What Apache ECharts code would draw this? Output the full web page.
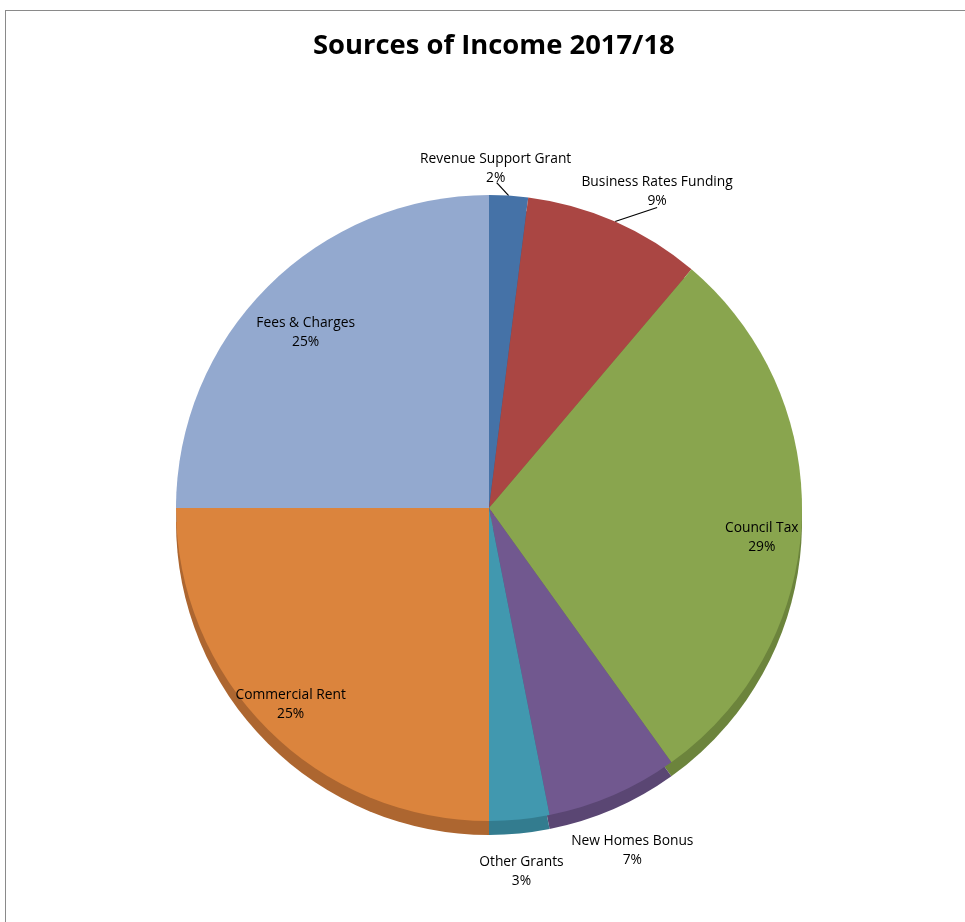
<!DOCTYPE html>
<html>
<head>
<meta charset="utf-8">
<script src="https://cdn.jsdelivr.net/npm/echarts@6/dist/echarts.min.js"></script>
<style>
  html, body { margin: 0; padding: 0; background: #fff; overflow: hidden; }
  #frame { position: absolute; left: 5px; top: 10px; width: 1200px; height: 1200px; border: 1px solid #8a8a8a; box-sizing: border-box; }
  #chart { position: absolute; left: 0; top: 0; width: 965px; height: 922px; }
</style>
</head>
<body>
<div id="frame"></div>
<div id="chart"></div>
<script>
// ---- data ----
const titleText = 'Sources of Income 2017/18';
const categories = ['Revenue Support Grant', 'Business Rates Funding', 'Council Tax', 'New Homes Bonus', 'Other Grants', 'Commercial Rent', 'Fees & Charges'];
const shares = [2.0, 9.2, 28.9, 6.8, 3.1, 25.0, 25.0];

// ---- styles ----
const topColors = ['#4572A7', '#AA4643', '#89A54E', '#71588F', '#4198AF', '#DB843D', '#93A9CF'];
const sideColors = ['#355987', '#883634', '#6c843c', '#5a4673', '#337c8f', '#ad6630', '#7588a8'];
const showLeader = [true, true, false, false, false, false, false];
// label nudges (px) relative to the slice's outer mid-point
const labelNudge = [[-13, -27], [42, -30], [-40, 17], [19, 55], [2, 52], [23, -25], [38, 46]];
const leaderEnd = [[1, 14], [0, 16]];

const CX = 489, CY = 508, R = 313, DEPTH = 14;
const FONT = '"Open Sans", "DejaVu Sans", sans-serif';

const total = shares.reduce((a, b) => a + b, 0);
function midAngle(i) {
  let start = 0;
  for (let k = 0; k < i; k++) start += shares[k];
  return (start + shares[i] / 2) / total * 2 * Math.PI;
}

const chart = echarts.init(document.getElementById('chart'), null, { renderer: 'canvas' });

const option = {
  animation: false,
  backgroundColor: 'transparent',
  title: {
    text: titleText,
    left: 313,
    top: 33,
    padding: 0,
    textStyle: { fontFamily: FONT, fontWeight: 'bold', fontSize: 27.4, color: '#000' }
  },
  series: [
    {
      type: 'pie',
      silent: true,
      center: [CX, CY + DEPTH],
      radius: R,
      startAngle: 90,
      clockwise: true,
      label: { show: false },
      labelLine: { show: false },
      emphasis: { disabled: true },
      data: categories.map((c, i) => ({ name: c, value: shares[i], itemStyle: { color: sideColors[i] } }))
    },
    {
      type: 'pie',
      silent: true,
      center: [CX, CY],
      radius: R,
      startAngle: 90,
      clockwise: true,
      avoidLabelOverlap: false,
      emphasis: { disabled: true },
      label: {
        show: true,
        position: 'outside',
        fontFamily: FONT,
        fontSize: 13.8,
        lineHeight: 19,
        color: '#000',
        formatter: p => p.name + '\n' + Math.round(p.percent) + '%'
      },
      labelLine: { show: true, length: 10, length2: 10, lineStyle: { color: '#000', width: 1.2 } },
      labelLayout: function (params) {
        const i = params.dataIndex;
        const a = midAngle(i);
        const ex = CX + R * Math.sin(a), ey = CY - R * Math.cos(a);
        const lx = ex + labelNudge[i][0], ly = ey + labelNudge[i][1];
        const res = { x: lx, y: ly, align: 'center', verticalAlign: 'middle' };
        if (showLeader[i]) {
          res.labelLinePoints = [[ex, ey], [lx + leaderEnd[i][0], ly + leaderEnd[i][1]], [lx + leaderEnd[i][0], ly + leaderEnd[i][1]]];
        }
        return res;
      },
      data: categories.map((c, i) => ({
        name: c,
        value: shares[i],
        itemStyle: { color: topColors[i] },
        labelLine: { show: showLeader[i] }
      }))
    }
  ]
};
chart.setOption(option);
</script>
</body>
</html>
